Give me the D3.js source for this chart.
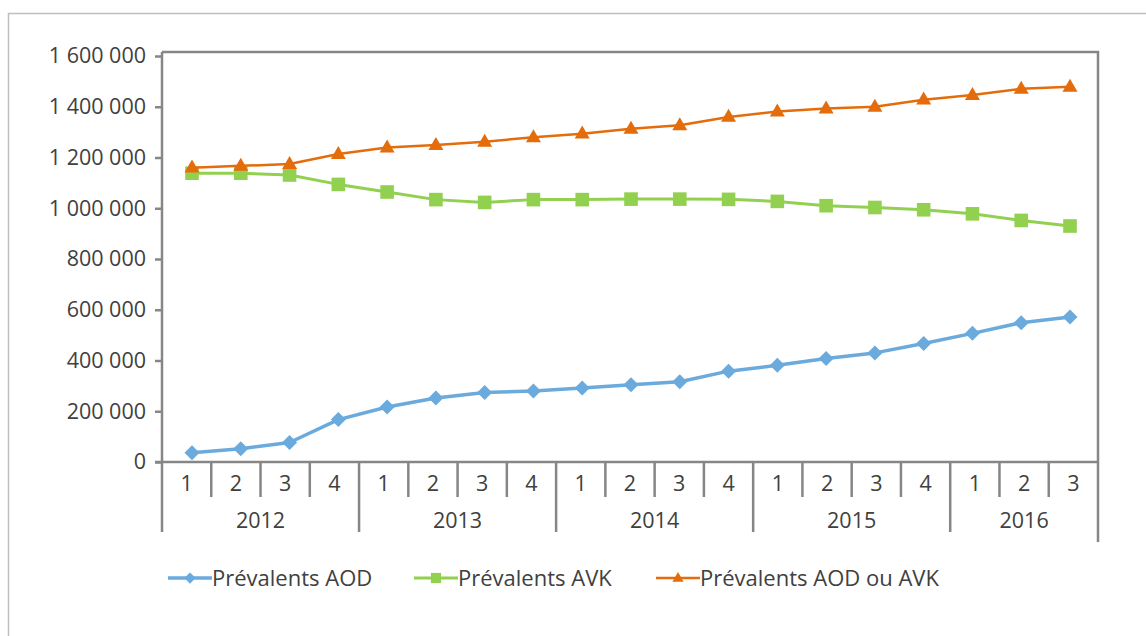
<!DOCTYPE html>
<html>
<head>
<meta charset="utf-8">
<script src="https://cdn.jsdelivr.net/npm/d3@7"></script>
<style>
  html, body { margin: 0; padding: 0; background: #fff; }
  svg { display: block; }
  text { font-family: "Open Sans", sans-serif; fill: #404040; }
</style>
</head>
<body>
<svg id="chart" width="1146" height="636"></svg>
<script>
// ---- data ----
const quarters = ["1","2","3","4","1","2","3","4","1","2","3","4","1","2","3","4","1","2","3"];
const years = ["2012","2013","2014","2015","2016"];
const yearSpans = [4,4,4,4,3];
const aod = [36000,52000,77000,167000,217000,252000,274000,280000,292000,304000,316000,358000,381000,408000,430000,467000,507000,549000,571000];
const avk = [1138000,1138000,1131000,1094000,1064000,1034000,1023000,1034000,1034000,1036000,1036000,1035000,1027000,1010000,1003000,994000,978000,952000,930000];
const aodOuAvk = [1160000,1167000,1174000,1214000,1239000,1249000,1262000,1280000,1294000,1313000,1327000,1360000,1381000,1393000,1400000,1428000,1446000,1471000,1479000];
const yTicks = [0,200000,400000,600000,800000,1000000,1200000,1400000,1600000];
const seriesNames = ["Prévalents AOD","Prévalents AVK","Prévalents AOD ou AVK"];

// ---- layout ----
const svg = d3.select("#chart");
const L = 162, R = 1098, T = 52, B = 462;
const axisColor = "#868686";
const fontSize = 21.5;

const idx = d3.range(quarters.length);
const xBand = d3.scaleBand().domain(idx).range([L, R]).padding(0);
const xPt = d3.scalePoint().domain(idx).range([192, 1070]);
const y = d3.scaleLinear().domain([0, 1600000]).range([B, 56]);

const fmt = v => d3.format(",")(v).replace(/,/g, " ");

// outer border
svg.append("rect").attr("x", 8.5).attr("y", 13.5).attr("width", 1200).attr("height", 700)
  .attr("fill", "none").attr("stroke", "#BFBFBF").attr("stroke-width", 1.5);

// plot frame (top and right)
svg.append("path")
  .attr("d", `M${L},${T}H${R}V${542}`)
  .attr("fill", "none").attr("stroke", axisColor).attr("stroke-width", 2.5);

// y axis
const yAxis = d3.axisLeft(y).tickValues(yTicks).tickFormat(fmt).tickSize(7).tickPadding(9);
const gy = svg.append("g").attr("transform", `translate(${L},0)`).call(yAxis);
gy.select(".domain").remove();
gy.selectAll(".tick line").attr("stroke", axisColor).attr("stroke-width", 2.5);
gy.selectAll(".tick text").style("font-size", fontSize + "px").attr("fill", "#404040")
  .style("font-family", '"Open Sans", sans-serif');
svg.append("line").attr("x1", L).attr("x2", L).attr("y1", T).attr("y2", 532)
  .attr("stroke", axisColor).attr("stroke-width", 2.5);

// x axis baseline
svg.append("line").attr("x1", L - 7).attr("x2", R).attr("y1", B).attr("y2", B)
  .attr("stroke", axisColor).attr("stroke-width", 2.5);

// quarter labels
svg.append("g").selectAll("text").data(idx).join("text")
  .attr("x", d => xBand(d) + xBand.bandwidth() / 2)
  .attr("y", 483).attr("dy", "0.35em").attr("text-anchor", "middle")
  .style("font-size", fontSize + "px").text(d => quarters[d]);

// separators
let start = 0;
const yearStarts = [];
yearSpans.forEach(s => { yearStarts.push(start); start += s; });
const yearStartSet = new Set(yearStarts);
svg.append("g").selectAll("line").data(idx.filter(i => i > 0 && !yearStartSet.has(i))).join("line")
  .attr("x1", d => xBand(d)).attr("x2", d => xBand(d)).attr("y1", B).attr("y2", 497)
  .attr("stroke", axisColor).attr("stroke-width", 2.5);
svg.append("g").selectAll("line").data(yearStarts.filter(i => i > 0)).join("line")
  .attr("x1", d => xBand(d)).attr("x2", d => xBand(d)).attr("y1", B).attr("y2", 532)
  .attr("stroke", axisColor).attr("stroke-width", 2.5);

// year labels
svg.append("g").selectAll("text").data(years).join("text")
  .attr("x", (d, i) => {
    const a = xBand(yearStarts[i]);
    const b = xBand(yearStarts[i] + yearSpans[i] - 1) + xBand.bandwidth();
    return (a + b) / 2;
  })
  .attr("y", 520).attr("dy", "0.35em").attr("text-anchor", "middle")
  .style("font-size", fontSize + "px").text(d => d);

// series
const colors = ["#6AAADC", "#92D050", "#E46C0A"];
const widths = [3.5, 3, 2.5];
const data = [aod, avk, aodOuAvk];
const line = d3.line().x((d, i) => xPt(i)).y(d => y(d));

function marker(sel, k, scale) {
  if (k === 0) {
    const r = 7.5 * scale;
    sel.append("path").attr("d", `M0,${-r}L${r},0L0,${r}L${-r},0Z`).attr("fill", colors[k]);
  } else if (k === 1) {
    const h = 6.8 * scale;
    sel.append("rect").attr("x", -h).attr("y", -h).attr("width", 2 * h).attr("height", 2 * h)
      .attr("fill", colors[k]);
  } else {
    const w = 7.5 * scale, h = 13 * scale;
    sel.append("path").attr("d", `M0,${-h * 0.62}L${w},${h * 0.38}L${-w},${h * 0.38}Z`).attr("fill", colors[k]);
  }
}

data.forEach((vals, k) => {
  svg.append("path").datum(vals).attr("d", line)
    .attr("fill", "none").attr("stroke", colors[k]).attr("stroke-width", widths[k])
    .attr("stroke-linejoin", "round");
  vals.forEach((v, i) => {
    const g = svg.append("g").attr("transform", `translate(${xPt(i)},${y(v)})`);
    marker(g, k, 1);
  });
});

// legend
const legendX = [168, 414, 656];
seriesNames.forEach((name, k) => {
  const x0 = legendX[k], ly = 578;
  svg.append("line").attr("x1", x0).attr("x2", x0 + 44).attr("y1", ly).attr("y2", ly)
    .attr("stroke", colors[k]).attr("stroke-width", widths[k]);
  const g = svg.append("g").attr("transform", `translate(${x0 + 22},${ly})`);
  marker(g, k, 0.75);
  svg.append("text").attr("x", x0 + 44).attr("y", ly).attr("dy", "0.35em")
    .style("font-size", "22px").text(name);
});
</script>
</body>
</html>
